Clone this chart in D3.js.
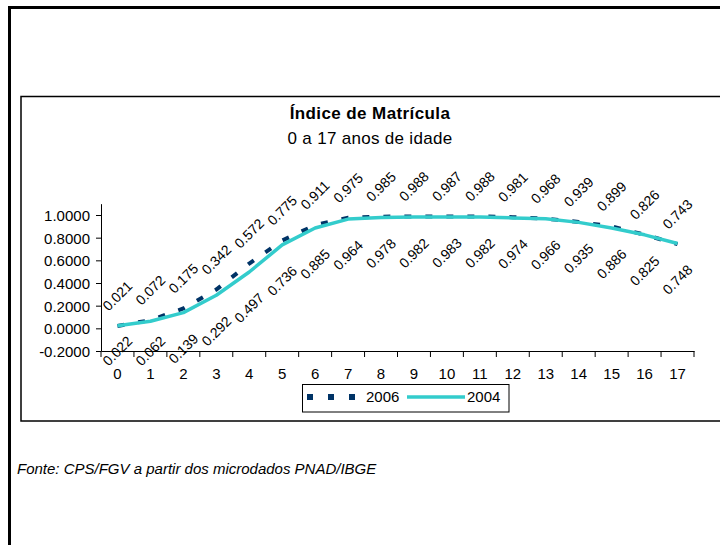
<!DOCTYPE html>
<html>
<head>
<meta charset="utf-8">
<script src="https://cdn.jsdelivr.net/npm/d3@7"></script>
<style>
  html, body { margin: 0; padding: 0; background: #fff; overflow: hidden; }
  svg { display: block; font-family: 'Liberation Sans', Arial, sans-serif; }
</style>
</head>
<body>
<div id="chart"></div>
<script>
// Data
const ages = [0, 1, 2, 3, 4, 5, 6, 7, 8, 9, 10, 11, 12, 13, 14, 15, 16, 17]
const matricula2006 = [0.021, 0.072, 0.175, 0.342, 0.572, 0.775, 0.911, 0.975, 0.985, 0.988, 0.987, 0.988, 0.981, 0.968, 0.939, 0.899, 0.826, 0.743]
const matricula2004 = [0.022, 0.062, 0.139, 0.292, 0.497, 0.736, 0.885, 0.964, 0.978, 0.982, 0.983, 0.982, 0.974, 0.966, 0.935, 0.886, 0.825, 0.748]
const yTicks = [-0.2, 0, 0.2, 0.4, 0.6, 0.8, 1.0]
const seriesNames = ['2006', '2004']
const title = 'Índice de Matrícula'
const subtitle = '0 a 17 anos de idade'
const source = 'Fonte: CPS/FGV a partir dos microdados PNAD/IBGE'

const navy = '#003366'
const cyan = '#33CCCC'

// SVG Node
const width = 720
const height = 545
const svg = d3.select('#chart').append('svg')
    .attr('width', width)
    .attr('height', height)

// Frames (outer sheet border and chart area, both run off the page)
svg.append('rect')
    .attr('x', 9.5).attr('y', 7.5)
    .attr('width', 800).attr('height', 600)
    .attr('fill', 'none')
    .attr('stroke', '#000')
    .attr('stroke-width', 3)
svg.append('rect')
    .attr('x', 21).attr('y', 96.5)
    .attr('width', 800).attr('height', 324.5)
    .attr('fill', '#fff')
    .attr('stroke', '#000')
    .attr('stroke-width', 1.5)

// Scales
const x = d3.scaleBand()
    .domain(ages)
    .range([101, 694])
const y = d3.scaleLinear()
    .domain([-0.2, 1.1])
    .range([351, 351 - 1.3 * 113.33])
const cx = age => x(age) + x.bandwidth() / 2

// Titles
svg.append('text')
    .attr('x', 370).attr('y', 119)
    .attr('text-anchor', 'middle')
    .attr('font-size', 17)
    .attr('font-weight', 'bold')
    .attr('letter-spacing', 0.4)
    .text(title)
svg.append('text')
    .attr('x', 370).attr('y', 144)
    .attr('text-anchor', 'middle')
    .attr('font-size', 17)
    .attr('letter-spacing', 0.3)
    .text(subtitle)

// Axes
const yAxis = svg.append('g')
    .attr('transform', 'translate(101,0)')
    .call(d3.axisLeft(y)
        .tickValues(yTicks)
        .tickFormat(d => d.toFixed(4))
        .tickSize(5)
        .tickSizeOuter(0)
        .tickPadding(6))
yAxis.attr('font-size', 15).attr('font-family', null)
yAxis.selectAll('.tick text').attr('dy', '0.36em')

const xAxis = svg.append('g')
    .attr('transform', 'translate(0,351)')
    .call(d3.axisBottom(x)
        .tickSize(0)
        .tickSizeOuter(0)
        .tickPadding(17))
xAxis.attr('font-size', 15).attr('font-family', null)

// Excel style ticks between categories
xAxis.selectAll('line.between')
    .data([...ages.map(a => x(a)), x.range()[1]])
    .join('line')
    .attr('class', 'between')
    .attr('x1', d => d).attr('x2', d => d)
    .attr('y1', 0).attr('y2', 6)
    .attr('stroke', '#000')

// Trends
const line = d3.line()
    .x((_, i) => cx(ages[i]))
    .y(v => y(v))

svg.append('path')
    .datum(matricula2006)
    .attr('fill', 'none')
    .attr('stroke', navy)
    .attr('stroke-width', 4)
    .attr('stroke-dasharray', '7 14')
    .attr('d', line)
svg.append('path')
    .datum(matricula2004)
    .attr('fill', 'none')
    .attr('stroke', cyan)
    .attr('stroke-width', 3.5)
    .attr('stroke-linejoin', 'round')
    .attr('d', line)

// Data labels
const fmt = v => v.toFixed(3)
svg.append('g')
    .attr('font-size', 14)
    .attr('text-anchor', 'middle')
    .selectAll('text')
    .data(matricula2006)
    .join('text')
    .attr('transform', (v, i) => `translate(${cx(ages[i])},${y(v) - 30}) rotate(-45)`)
    .attr('dy', '0.35em')
    .text(fmt)
svg.append('g')
    .attr('font-size', 14)
    .attr('text-anchor', 'middle')
    .selectAll('text')
    .data(matricula2004)
    .join('text')
    .attr('transform', (v, i) => `translate(${cx(ages[i])},${Math.min(y(v) + 36, 351)}) rotate(-45)`)
    .attr('dy', '0.35em')
    .text(fmt)

// Legend
const legend = svg.append('g')
legend.append('rect')
    .attr('x', 302.5).attr('y', 384.5)
    .attr('width', 206.5).attr('height', 27.5)
    .attr('fill', '#fff')
    .attr('stroke', '#000')
legend.append('line')
    .attr('x1', 307).attr('x2', 356)
    .attr('y1', 397).attr('y2', 397)
    .attr('stroke', navy)
    .attr('stroke-width', 6)
    .attr('stroke-dasharray', '6 15')
legend.append('text')
    .attr('x', 366).attr('y', 402)
    .attr('font-size', 15)
    .text(seriesNames[0])
legend.append('line')
    .attr('x1', 407).attr('x2', 465)
    .attr('y1', 397).attr('y2', 397)
    .attr('stroke', cyan)
    .attr('stroke-width', 3.5)
legend.append('text')
    .attr('x', 467).attr('y', 402)
    .attr('font-size', 15)
    .text(seriesNames[1])

// Source note
svg.append('text')
    .attr('x', 17).attr('y', 474)
    .attr('font-size', 15)
    .attr('font-style', 'italic')
    .text(source)
</script>
</body>
</html>
